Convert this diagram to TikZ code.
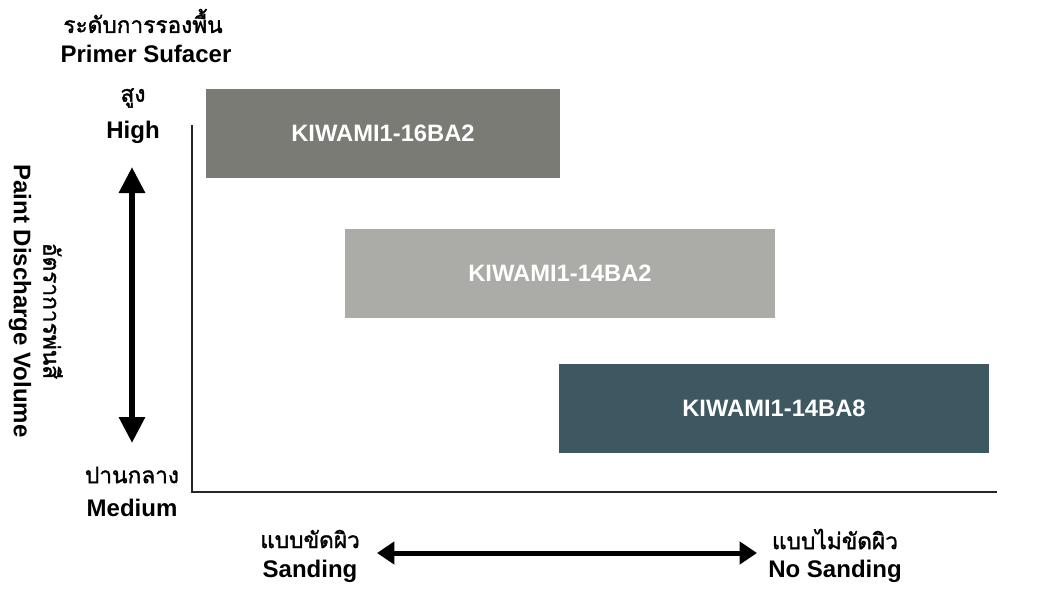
\documentclass[tikz,border=0pt]{standalone}
\usepackage{fontspec}
\setmainfont{Liberation Sans}
\newfontfamily\thaifont[Script=Thai, AutoFakeBold=1.5]{Loma}
\usetikzlibrary{arrows.meta}

\definecolor{boxhigh}{HTML}{797B74}
\definecolor{boxmid}{HTML}{ABACA7}
\definecolor{boxlow}{HTML}{3D5860}

\tikzset{
  lbl/.style={font=\fontsize{18}{21}\selectfont\bfseries, inner sep=0pt},
  thlbl/.style={font=\thaifont\fontsize{17}{20}\selectfont\bfseries, inner sep=0pt},
  gunbox/.style={minimum width=322.5pt, minimum height=66.75pt, inner sep=0pt,
    text=white, font=\fontsize{17.8}{21}\selectfont\bfseries},
  bigarrow/.style={line width=4.5pt, {Triangle[length=19.5pt,width=18.75pt]}-{Triangle[length=19.5pt,width=18.75pt]}},
  widearrow/.style={line width=3.75pt, {Triangle[length=13pt,width=16.5pt]}-{Triangle[length=13pt,width=16.5pt]}}
}

\begin{document}
\begin{tikzpicture}[x=0.75pt,y=0.75pt,yscale=-1]
\useasboundingbox (0,0) rectangle (1041,594);

% axes
\coordinate (orig) at (192,492);
\coordinate (ytop) at (192,125);
\coordinate (xend) at (997,492);
\draw [line width=2.2pt, black!85] (ytop) -- (orig) -- (xend);

% boxes
\node [gunbox, fill=boxhigh, minimum width=265.5pt] (ba16) at (383,133.5) {KIWAMI1-16BA2};
\node [gunbox, fill=boxmid] (ba14) at (560,273.5) {KIWAMI1-14BA2};
\node [gunbox, fill=boxlow] (ba8) at (774,408.5) {KIWAMI1-14BA8};

% y side
\node [thlbl] (primerth) at (143,21) {ระดับการรองพื้น};
\node [lbl] (primeren) at (146,54) {Primer Sufacer};
\node [thlbl] (highth) at (133,98) {สูง};
\node [lbl] (highen) at (133,132) {High};
\node [thlbl] (medth) at (132,475) {ปานกลาง};
\node [lbl] (meden) at (132,508) {Medium};
\node [lbl, rotate=-90] (volen) at (20,301) {Paint Discharge Volume};
\node [thlbl, rotate=-90] (volth) at (53,311) {อัตราการพ่นสี};
\coordinate (vtop) at (132,167);
\coordinate (vbot) at (132,443);
\draw [bigarrow] (vtop) -- (vbot);

% x side
\node [thlbl] (sandth) at (310,539) {แบบขัดผิว};
\node [lbl] (sanden) at (310,571) {Sanding};
\node [thlbl] (nosandth) at (835,539) {แบบไม่ขัดผิว};
\node [lbl] (nosanden) at (835,571) {No Sanding};
\coordinate (hleft) at (377,553);
\coordinate (hright) at (757,553);
\draw [widearrow] (hleft) -- (hright);

\end{tikzpicture}
\end{document}
